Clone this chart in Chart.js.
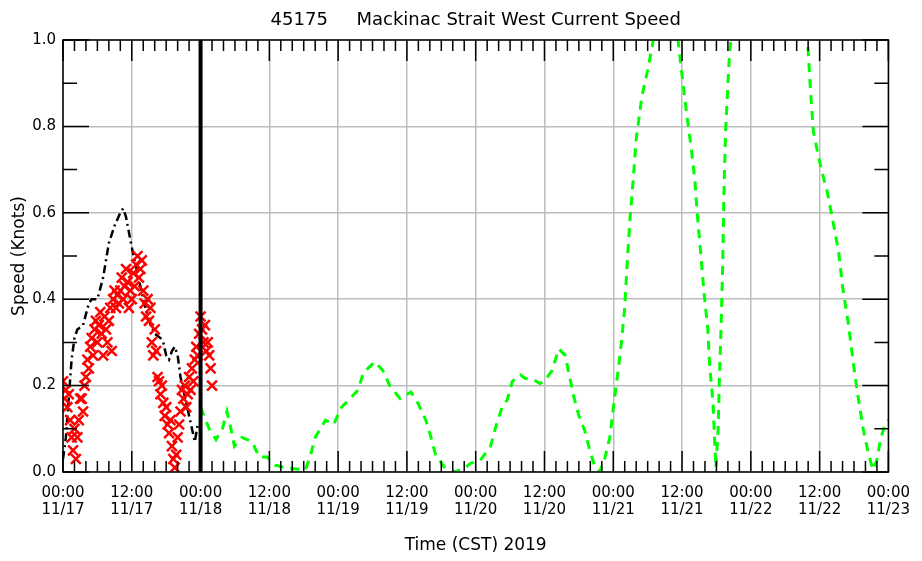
<!DOCTYPE html>
<html>
<head>
<meta charset="utf-8">
<title>45175 Mackinac Strait West Current Speed</title>
<script src="https://cdn.jsdelivr.net/npm/chart.js@4.4.1/dist/chart.umd.min.js"></script>
<style>
  html, body { margin: 0; padding: 0; background: #fff; }
  canvas { display: block; }
</style>
</head>
<body>
<canvas id="speedChart" width="922" height="561"></canvas>
<script>
// hours counted from 11/17 00:00 CST
const timeLabels = ["00:00", "12:00", "00:00", "12:00", "00:00", "12:00", "00:00", "12:00", "00:00", "12:00", "00:00", "12:00", "00:00"];
const dateLabels = ["11/17", "11/17", "11/18", "11/18", "11/19", "11/19", "11/20", "11/20", "11/21", "11/21", "11/22", "11/22", "11/23"];
const nowHour = 24;

// observed speed, every 15 minutes from 00:00 11/17
const obsSpeed = [
  0.21, 0.17, 0.19, 0.15, 0.18, 0.12, 0.08, 0.05,
  0.10, 0.03, 0.08, 0.12, 0.17, 0.17, 0.14, 0.20,
  0.22, 0.26, 0.24, 0.29, 0.31, 0.27, 0.33, 0.35,
  0.30, 0.34, 0.37, 0.32, 0.27, 0.36, 0.33, 0.30,
  0.35, 0.38, 0.28, 0.40, 0.42, 0.38, 0.41, 0.39,
  0.42, 0.45, 0.40, 0.43, 0.47, 0.44, 0.38, 0.42,
  0.40, 0.46, 0.43, 0.48, 0.50, 0.45, 0.47, 0.49,
  0.42, 0.39, 0.36, 0.40, 0.35, 0.38, 0.30, 0.27,
  0.33, 0.28, 0.22, 0.21, 0.18, 0.20, 0.16, 0.13,
  0.15, 0.11, 0.09, 0.12, 0.06, 0.03, 0.01, 0.04,
  0.08, 0.11, 0.14, 0.19, 0.17, 0.20, 0.15, 0.18,
  0.22, 0.19, 0.24, 0.21, 0.26, 0.29, 0.27, 0.32,
  0.36, 0.33, 0.30, 0.34, 0.28, 0.30, 0.27, 0.24,
  0.20
];
const obsStep = 0.25;

// nowcast (black dash-dot)
const nowcastHours = [0, 0.5, 1, 1.5, 2, 2.5, 3.5, 4.5, 5, 6, 7, 8, 9, 10, 10.5, 11, 12, 13, 14, 15, 16, 17, 17.5, 18, 18.5, 19, 19.5, 20, 20.5, 21, 22, 22.5, 23, 23.5];
const nowcastSpeed = [0.03, 0.08, 0.17, 0.26, 0.31, 0.33, 0.34, 0.39, 0.40, 0.40, 0.45, 0.53, 0.57, 0.60, 0.61, 0.59, 0.52, 0.46, 0.40, 0.35, 0.32, 0.31, 0.30, 0.27, 0.26, 0.28, 0.29, 0.27, 0.22, 0.19, 0.13, 0.10, 0.07, 0.11];

// forecast (green dashed)
const forecastHours = [
  24, 25.5, 26.7, 27.8, 28.6, 29.3, 29.9, 31.2, 33, 34.2, 35.6, 37, 38.1, 39.9,
  42.3, 43.2, 44, 45.8, 47.2, 48.6, 50.1, 51.5, 52.4, 54.4, 55.8, 57, 58.8, 60.7,
  61.9, 63.3, 64.2, 65, 66.5, 68.3, 70, 71.1, 72.8, 74.6, 75.4, 76.6, 77.5, 78.4,
  79.8, 80.6, 82.2, 83.2, 84, 85.3, 86.5, 87.6, 88.4, 89.1, 90, 91, 91.9, 92.8,
  93.6, 94.5, 95.4, 96.2, 96.9, 97.5, 98, 98.5, 99, 99.5, 100, 101, 102, 103,
  105, 107.3, 107.9, 108.7, 109.6, 110.2, 110.8, 111.3, 111.8, 112.5, 112.8, 113.4,
  113.6, 113.9, 114.3, 114.5, 114.8, 115.1, 115.3, 115.6, 116.2, 116.5, 119, 123,
  127, 129.9, 130.4, 130.9, 131.8, 132.5, 133.3, 134.2, 135.3, 136.1, 137, 137.9,
  138.7, 139.6, 140.5, 141.3, 142, 142.6, 143.4, 144
];
const forecastSpeed = [
  0.15, 0.10, 0.075, 0.10, 0.14, 0.10, 0.06, 0.08, 0.07, 0.035, 0.035, 0.016, 0.012, 0.008,
  0.005, 0.04, 0.08, 0.12, 0.11, 0.15, 0.17, 0.19, 0.23, 0.255, 0.235, 0.20, 0.17, 0.185,
  0.16, 0.12, 0.08, 0.04, 0.012, 0.0, 0.008, 0.02, 0.027, 0.06, 0.10, 0.15, 0.167, 0.21,
  0.225, 0.217, 0.213, 0.205, 0.21, 0.235, 0.285, 0.27, 0.22, 0.175, 0.13, 0.097, 0.05, 0.012,
  0.0, 0.03, 0.08, 0.17, 0.24, 0.31, 0.38, 0.50, 0.60, 0.68, 0.77, 0.87, 0.93, 1.0,
  1.12, 1.0, 0.93, 0.84, 0.75, 0.68, 0.575, 0.50, 0.42, 0.33, 0.25, 0.16,
  0.10, 0.01, 0.10, 0.21, 0.33, 0.48, 0.64, 0.79, 0.95, 1.0, 1.4, 1.6,
  1.4, 1.0, 0.885, 0.79, 0.73, 0.69, 0.65, 0.59, 0.51, 0.42, 0.345, 0.25,
  0.175, 0.10, 0.044, 0.005, 0.028, 0.074, 0.11, 0.12
];

Chart.defaults.font.family = "'DejaVu Sans', sans-serif";
Chart.defaults.color = "#000";

const axisTicks = {
  id: "axisTicks",
  afterDatasetsDraw(chart) {
    const { ctx, chartArea: a, scales: { x, y } } = chart;
    ctx.save();
    ctx.strokeStyle = "#000";
    ctx.lineWidth = 1.5;
    ctx.beginPath();
    for (let h = 0; h <= 144; h += 2) {
      const px = x.getPixelForValue(h);
      const len = h % 12 === 0 ? 21 : 11;
      ctx.moveTo(px, a.bottom);
      ctx.lineTo(px, a.bottom - len);
      ctx.moveTo(px, a.top);
      ctx.lineTo(px, a.top + len);
    }
    for (let i = 0; i <= 10; i++) {
      const py = y.getPixelForValue(i / 10);
      const len = i % 2 === 0 ? 26 : 14;
      ctx.moveTo(a.left, py);
      ctx.lineTo(a.left + len, py);
      ctx.moveTo(a.right, py);
      ctx.lineTo(a.right - len, py);
    }
    ctx.stroke();
    ctx.strokeRect(a.left, a.top, a.right - a.left, a.bottom - a.top);
    ctx.restore();
  }
};

new Chart(document.getElementById("speedChart"), {
  type: "line",
  data: {
    datasets: [
      {
        data: [{ x: nowHour, y: 0 }, { x: nowHour, y: 1 }],
        borderColor: "#000",
        borderWidth: 4,
        pointRadius: 0
      },
      {
        data: obsSpeed.map((v, i) => ({ x: i * obsStep, y: v })),
        showLine: false,
        pointStyle: "crossRot",
        pointRadius: 7,
        pointBorderWidth: 2.5,
        pointBorderColor: "#ff0000",
        pointBackgroundColor: "#ff0000"
      },
      {
        data: nowcastHours.map((h, i) => ({ x: h, y: nowcastSpeed[i] })),
        borderColor: "#000",
        borderWidth: 2.5,
        borderDash: [8, 4, 2, 4],
        pointRadius: 0,
        tension: 0
      },
      {
        data: forecastHours.map((h, i) => ({ x: h, y: forecastSpeed[i] })),
        borderColor: "#00ff00",
        borderWidth: 3,
        borderDash: [9, 7],
        pointRadius: 0,
        tension: 0
      }
    ]
  },
  options: {
    responsive: false,
    animation: false,
    devicePixelRatio: 1,
    layout: { padding: { top: 0, right: 29, bottom: 0, left: 0 } },
    plugins: {
      legend: { display: false },
      tooltip: { enabled: false },
      title: {
        display: true,
        fullSize: false,
        text: "45175     Mackinac Strait West Current Speed",
        font: { size: 18, weight: "normal", lineHeight: 1.2 },
        color: "#000",
        padding: { top: 10, bottom: 8.4 }
      }
    },
    scales: {
      x: {
        type: "linear",
        min: 0,
        max: 144,
        afterFit(scale) { scale.height = 89; },
        grid: { color: "#bdbdbd", lineWidth: 1.5, drawTicks: false },
        border: { display: false },
        ticks: {
          stepSize: 12,
          autoSkip: false,
          maxRotation: 0,
          padding: 12,
          font: { size: 15, lineHeight: 1.15 },
          callback: (v) => {
            const i = Math.round(v / 12);
            return [timeLabels[i], dateLabels[i]];
          }
        },
        title: {
          display: true,
          text: "Time (CST) 2019",
          font: { size: 17 },
          padding: { top: 0, bottom: 5 }
        }
      },
      y: {
        min: 0,
        max: 1,
        afterFit(scale) { scale.width = 63; },
        grid: { color: "#bdbdbd", lineWidth: 1.5, drawTicks: false },
        border: { display: false },
        ticks: {
          stepSize: 0.2,
          padding: 7,
          font: { size: 15 },
          callback: (v) => v.toFixed(1)
        },
        title: {
          display: true,
          text: "Speed (Knots)",
          font: { size: 17 },
          padding: { top: 9, bottom: 0 }
        }
      }
    }
  },
  plugins: [axisTicks]
});
</script>
</body>
</html>
